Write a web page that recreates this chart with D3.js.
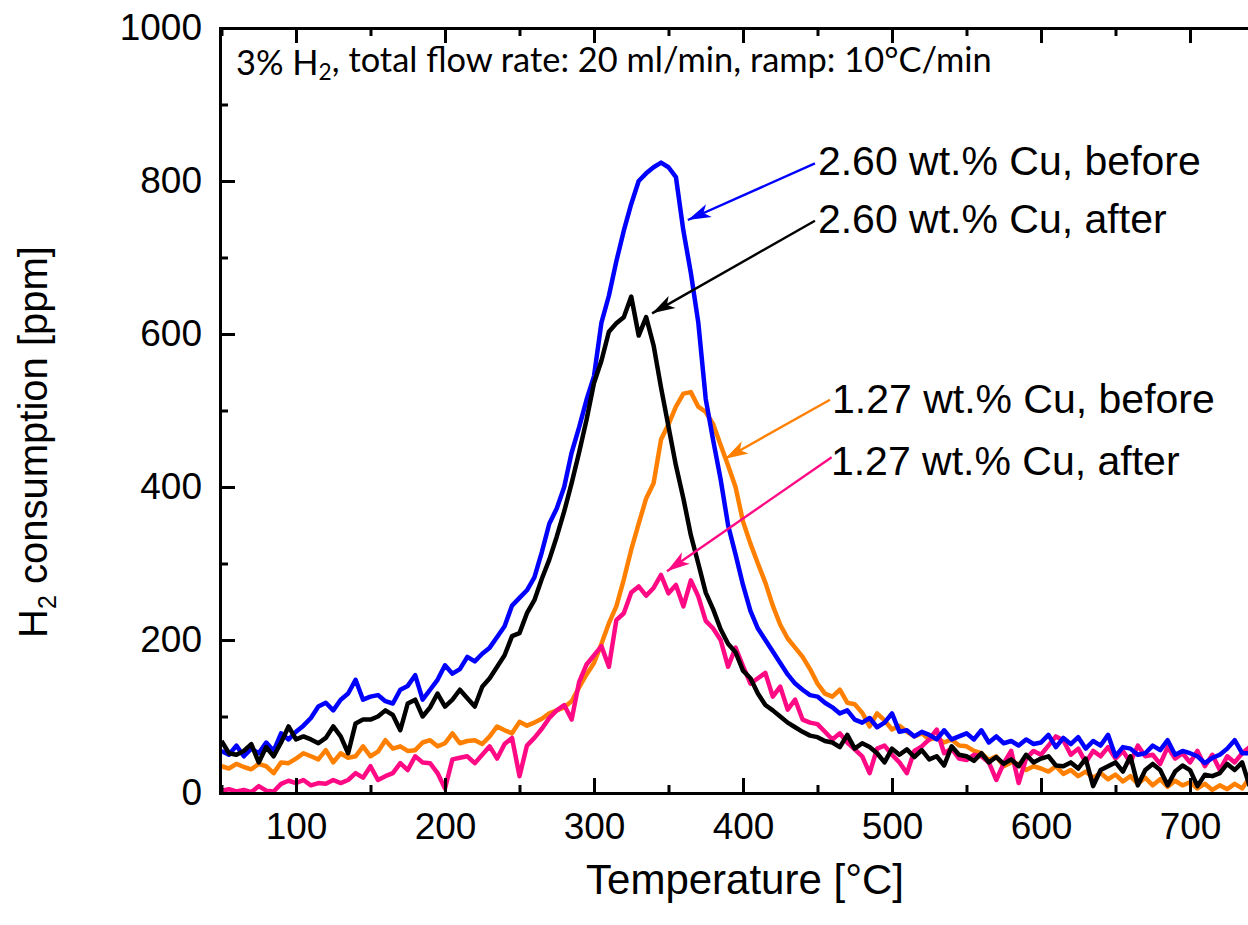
<!DOCTYPE html>
<html>
<head>
<meta charset="utf-8">
<script src="https://cdnjs.cloudflare.com/ajax/libs/d3/7.8.5/d3.min.js"></script>
<style>
  body { margin: 0; background: #fff; }
  svg { display: block; }
</style>
</head>
<body>
<div id="chart"></div>
<script>
// H2-TPR traces, every 5 degC
var temps = [50,55,60,65,70,75,80,85,90,95,
  100,105,110,115,120,125,130,135,140,145,
  150,155,160,165,170,175,180,185,190,195,
  200,205,210,215,220,225,230,235,240,245,
  250,255,260,265,270,275,280,285,290,295,
  300,305,310,315,320,325,330,335,340,345,
  350,355,360,365,370,375,380,385,390,395,
  400,405,410,415,420,425,430,435,440,445,
  450,455,460,465,470,475,480,485,490,495,
  500,505,510,515,520,525,530,535,540,545,
  550,555,560,565,570,575,580,585,590,595,
  600,605,610,615,620,625,630,635,640,645,
  650,655,660,665,670,675,680,685,690,695,
  700,705,710,715,720,725,730,735,740];

var cu260Before = [55,50,62,48,58,52,66,55,78,70,
  80,88,98,113,118,108,122,130,148,122,
  126,128,120,117,135,140,154,122,135,148,
  167,156,162,178,172,182,190,204,218,245,
  255,265,282,315,352,372,400,445,478,514,
  545,615,650,695,735,770,800,810,818,824,
  818,805,735,680,615,515,461,410,350,312,
  272,238,215,200,185,170,155,143,135,128,
  126,118,112,104,108,96,92,98,86,92,
  104,80,82,74,80,76,70,82,70,74,
  78,70,82,66,74,65,68,62,70,64,
  66,76,60,72,64,73,58,68,62,76,
  48,60,58,50,52,62,56,69,50,55,
  52,48,39,46,50,58,69,52,52];

var cu260After = [68,52,50,55,64,40,60,48,66,87,
  70,74,70,65,72,87,74,52,91,96,
  96,100,108,102,82,117,122,100,112,130,
  113,122,135,124,113,139,150,165,180,205,
  209,235,252,280,305,335,368,405,445,488,
  536,565,603,614,622,649,598,622,585,530,
  479,428,385,337,300,262,240,214,195,184,
  160,150,130,115,108,100,92,86,80,75,
  73,68,66,60,76,58,65,60,52,40,
  58,50,57,47,56,44,48,36,61,50,
  48,42,52,40,47,38,44,35,50,40,
  45,48,36,35,40,32,45,9,30,35,
  40,28,48,10,30,38,30,10,28,36,
  30,9,24,22,26,38,30,40,9];

var cu127Before = [35,32,38,34,31,38,35,26,40,39,
  45,52,48,44,56,40,52,46,48,61,
  48,54,69,58,61,55,56,66,69,61,
  65,78,65,68,69,64,74,87,82,78,
  93,88,92,97,104,108,112,120,138,155,
  170,195,222,244,279,318,352,385,405,462,
  482,505,522,524,505,498,482,455,428,400,
  355,326,300,275,245,220,202,190,178,162,
  143,130,126,135,118,116,105,87,104,95,
  83,88,80,74,78,70,72,66,70,62,
  61,55,52,43,48,35,40,38,30,35,
  32,28,35,25,30,22,28,20,26,18,
  24,15,22,12,20,10,18,8,16,10,
  14,6,12,4,10,5,12,6,20];

var cu127After = [3,5,2,4,1,9,3,2,12,16,
  13,17,10,13,12,17,13,17,26,20,
  35,17,22,26,39,30,48,40,39,26,
  6,44,46,48,39,50,61,45,64,72,
  22,62,72,84,98,108,115,96,145,168,
  180,192,165,226,235,262,270,258,268,285,
  261,272,244,278,257,225,215,200,165,190,
  166,143,150,157,126,139,109,122,96,92,
  90,80,70,78,66,57,48,26,58,62,
  50,40,26,55,61,70,83,52,58,45,
  43,50,48,40,17,39,55,13,45,55,
  50,62,74,69,50,58,40,55,48,60,
  45,55,40,62,48,50,38,60,45,52,
  40,55,35,50,30,48,40,52,60];

var seriesNames = ["1.27 wt.% Cu, before", "1.27 wt.% Cu, after", "2.60 wt.% Cu, before", "2.60 wt.% Cu, after"];
var seriesValues = [cu127Before, cu127After, cu260Before, cu260After];
var seriesColors = ["#ff8000", "#ff0a84", "#0000ff", "#000000"];

var xTicks = [100,200,300,400,500,600,700];
var xMinor = [50,150,250,350,450,550,650,750];
var yTicks = [0,200,400,600,800,1000];
var yMinor = [100,300,500,700,900];

// label / arrow placement in data units: [labelT, labelV, tailT, tailV, tipT, tipV]
var notes = [
  [459.7, 497, 458.4, 514, 388, 437],
  [459, 416, 459.5, 439, 349, 290],
  [450.3, 808, 448.3, 823, 363, 749],
  [450.3, 732, 448.3, 748, 339, 627]
];

var w = 1248, h = 925;
var pLeft = 220, pRight = 1263, pTop = 28, pBottom = 793;
var tickFont = "'Liberation Sans', Arial, sans-serif";

var svg = d3.select("#chart").append("svg")
  .attr("width", w)
  .attr("height", h);

var x = d3.scaleLinear().domain([49, 749]).range([pLeft, pRight]);
var y = d3.scaleLinear().domain([0, 1000]).range([pBottom, pTop]);

var line = d3.line()
  .x(function(d) { return x(d[0]); })
  .y(function(d) { return y(d[1]); });

// traces
var traces = svg.append("g");
seriesValues.forEach(function(vals, i) {
  traces.append("path")
    .datum(d3.zip(temps, vals))
    .attr("d", line)
    .attr("fill", "none")
    .attr("stroke", seriesColors[i])
    .attr("stroke-width", 4.5)
    .attr("stroke-linejoin", "round");
});

// axes, ticks pointing inward
function styleAxis(g) {
  g.select(".domain").attr("stroke-width", 3).attr("stroke-linecap", "square");
  g.selectAll(".tick line").attr("stroke-width", 3);
  g.selectAll("text").style("font-family", tickFont).style("font-size", "37px").attr("fill", "#000");
}

svg.append("g").attr("transform", "translate(0," + pBottom + ")")
  .call(d3.axisBottom(x).tickValues(xTicks).tickSize(-15).tickSizeOuter(0).tickPadding(20).tickFormat(d3.format("d")))
  .call(styleAxis);
svg.append("g").attr("transform", "translate(0," + pBottom + ")")
  .call(d3.axisBottom(x).tickValues(xMinor).tickSize(-8).tickFormat(""))
  .call(styleAxis).select(".domain").remove();
svg.append("g").attr("transform", "translate(0," + pTop + ")")
  .call(d3.axisTop(x).tickValues(xTicks).tickSize(-15).tickSizeOuter(0).tickFormat(""))
  .call(styleAxis);
svg.append("g").attr("transform", "translate(0," + pTop + ")")
  .call(d3.axisTop(x).tickValues(xMinor).tickSize(-8).tickFormat(""))
  .call(styleAxis).select(".domain").remove();

svg.append("g").attr("transform", "translate(" + pLeft + ",0)")
  .call(d3.axisLeft(y).tickValues(yTicks).tickSize(-15).tickSizeOuter(0).tickPadding(18).tickFormat(d3.format("d")))
  .call(styleAxis);
svg.append("g").attr("transform", "translate(" + pLeft + ",0)")
  .call(d3.axisLeft(y).tickValues(yMinor).tickSize(-8).tickFormat(""))
  .call(styleAxis).select(".domain").remove();
svg.append("g").attr("transform", "translate(" + pRight + ",0)")
  .call(d3.axisRight(y).tickValues(yTicks).tickSize(-15).tickSizeOuter(0).tickFormat(""))
  .call(styleAxis);

// axis titles
svg.append("text")
  .attr("x", 745)
  .attr("y", 894)
  .attr("text-anchor", "middle")
  .style("font-family", tickFont)
  .style("font-size", "42px")
  .text("Temperature [°C]");

var yTitle = svg.append("text")
  .attr("transform", "translate(47,442) rotate(-90)")
  .attr("text-anchor", "middle")
  .style("font-family", tickFont)
  .style("font-size", "40px");
yTitle.append("tspan").text("H");
yTitle.append("tspan").attr("dy", 9).style("font-size", "25px").text("2");
yTitle.append("tspan").attr("dy", -9).text(" consumption [ppm]");

// conditions note, Calibri-like, fitted to the width seen in the picture
var note = svg.append("text")
  .attr("x", 236)
  .attr("y", 75)
  .style("font-family", "Lato, 'Open Sans', sans-serif")
  .style("font-size", "37px");
note.append("tspan").text("3% H");
note.append("tspan").attr("dy", "0.22em").style("font-size", "0.66em").text("2");
note.append("tspan").attr("dy", "-0.22em").text(", total flow rate: 20 ml/min, ramp: 10°C/min");
var noteLen = note.node().getComputedTextLength();
note.style("font-size", (37 * 756 / noteLen) + "px");

// arrowheads
var defs = svg.append("defs");
seriesColors.forEach(function(c, i) {
  defs.append("marker")
    .attr("id", "head" + i)
    .attr("viewBox", "-24 -8 26 16")
    .attr("markerWidth", 26)
    .attr("markerHeight", 16)
    .attr("markerUnits", "userSpaceOnUse")
    .attr("refX", 0)
    .attr("refY", 0)
    .attr("orient", "auto")
    .append("path")
    .attr("d", "M0,0L-23,-7L-17,0L-23,7Z")
    .attr("fill", c);
});

// series labels with arrows
notes.forEach(function(n, i) {
  svg.append("line")
    .attr("x1", x(n[2])).attr("y1", y(n[3]))
    .attr("x2", x(n[4])).attr("y2", y(n[5]))
    .attr("stroke", seriesColors[i])
    .attr("stroke-width", 2.4)
    .attr("marker-end", "url(#head" + i + ")");
  svg.append("text")
    .attr("x", x(n[0]))
    .attr("y", y(n[1]))
    .style("font-family", tickFont)
    .style("font-size", "41px")
    .attr("fill", "#000")
    .text(seriesNames[i]);
});
</script>
</body>
</html>
